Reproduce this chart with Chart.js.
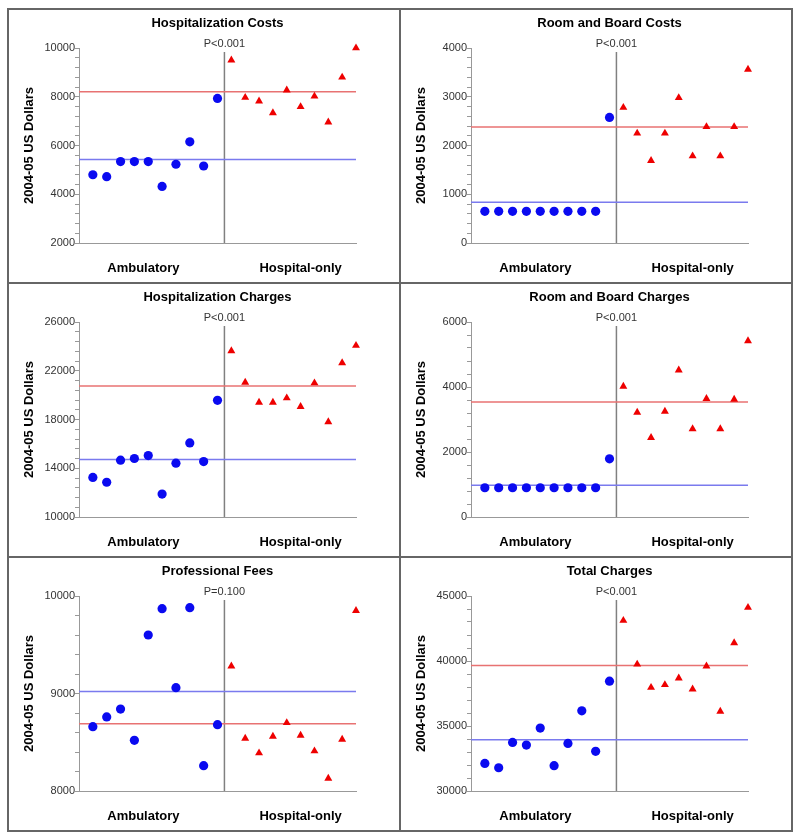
<!DOCTYPE html>
<html>
<head>
<meta charset="utf-8">
<title>Costs and charges by group</title>
<script src="https://cdn.jsdelivr.net/npm/chart.js@4.4.1/dist/chart.umd.min.js"></script>
<style>
  body { margin: 0; background: #fff; }
  #frame { position: absolute; left: 7px; top: 8px; width: 782px; height: 820px; border: 2px solid #666; }
  .vdiv { position: absolute; left: 399px; top: 8px; width: 2px; height: 824px; background: #666; }
  .hdiv { position: absolute; left: 7px; width: 786px; height: 2px; background: #666; }
  canvas { position: absolute; }
</style>
</head>
<body>
<div id="frame"></div>
<div class="vdiv"></div>
<div class="hdiv" style="top:282px"></div>
<div class="hdiv" style="top:556px"></div>

<canvas id="c0" width="390" height="272" style="left:9px;top:10px"></canvas>
<canvas id="c1" width="390" height="272" style="left:401px;top:10px"></canvas>
<canvas id="c2" width="390" height="272" style="left:9px;top:284px"></canvas>
<canvas id="c3" width="390" height="272" style="left:401px;top:284px"></canvas>
<canvas id="c4" width="390" height="272" style="left:9px;top:558px"></canvas>
<canvas id="c5" width="390" height="272" style="left:401px;top:558px"></canvas>

<script>
// group names shown under each panel
const groupLabels = ['Ambulatory', 'Hospital-only'];

// panel titles and p-values
const titles = ['Hospitalization Costs', 'Room and Board Costs', 'Hospitalization Charges',
  'Room and Board Charges', 'Professional Fees', 'Total Charges'];
const pValues = ['P<0.001', 'P<0.001', 'P<0.001', 'P<0.001', 'P=0.100', 'P<0.001'];

// y axis ranges and major tick step per panel
const yMins = [2000, 0, 10000, 0, 8000, 30000];
const yMaxs = [10000, 4000, 26000, 6000, 10000, 45000];
const yMajors = [2000, 1000, 4000, 2000, 1000, 5000];

// 10 ambulatory sites (circles) per panel
const ambulatory = [
  [4800, 4720, 5340, 5340, 5340, 4320, 5230, 6150, 5160, 7930],
  [650, 650, 650, 650, 650, 650, 650, 650, 650, 2575],
  [13250, 12850, 14660, 14800, 15040, 11880, 14420, 16080, 14550, 19570],
  [900, 900, 900, 900, 900, 900, 900, 900, 900, 1790],
  [8660, 8760, 8840, 8520, 9600, 9870, 9060, 9880, 8260, 8680],
  [32120, 31790, 33740, 33530, 34840, 31950, 33660, 36170, 33050, 38450]
];

// 10 hospital-only sites (triangles) per panel
const hospitalOnly = [
  [9500, 7970, 7820, 7340, 8270, 7590, 8020, 6960, 8800, 10000],
  [2780, 2250, 1690, 2250, 2980, 1785, 2385, 1785, 2385, 3560],
  [23630, 21040, 19400, 19400, 19760, 19050, 20990, 17800, 22650, 24070],
  [4020, 3220, 2440, 3250, 4520, 2710, 3640, 2710, 3620, 5420],
  [9280, 8540, 8390, 8560, 8700, 8570, 8410, 8130, 8530, 9850],
  [43110, 39750, 37960, 38170, 38680, 37830, 39600, 36120, 41390, 44110]
];

// group means (horizontal lines)
const ambulatoryMeans = [5430, 838, 14720, 980, 9020, 33940];
const hospitalMeans = [8210, 2378, 20740, 3540, 8690, 39650];

const FONT = "Arial, 'Liberation Sans', sans-serif";
const topPad = 38;

// separator line, p-value and panel title
const panelDecor = {
  id: 'panelDecor',
  beforeDatasetsDraw(chart, args, opts) {
    const { ctx, chartArea, scales } = chart;
    const x = scales.x.getPixelForValue(opts.splitAt);
    ctx.save();
    ctx.strokeStyle = '#808080';
    ctx.lineWidth = 1.5;
    ctx.beginPath();
    ctx.moveTo(x, chartArea.top + 4);
    ctx.lineTo(x, chartArea.bottom);
    ctx.stroke();
    ctx.restore();
  },
  afterDraw(chart, args, opts) {
    const { ctx, chartArea, scales } = chart;
    const x = scales.x.getPixelForValue(opts.splitAt);
    ctx.save();
    ctx.textAlign = 'center';
    ctx.fillStyle = '#333';
    ctx.font = '11px ' + FONT;
    ctx.textBaseline = 'alphabetic';
    ctx.fillText(opts.pText, x, chartArea.top - 1);
    ctx.fillStyle = '#000';
    ctx.font = 'bold 13px ' + FONT;
    ctx.textBaseline = 'middle';
    ctx.fillText(opts.title, (chartArea.left + chartArea.right) / 2, 13);
    ctx.restore();
  }
};

function makePanel(i) {
  const ctx = document.getElementById('c' + i);
  const minor = yMajors[i] / 5;
  const meanLine = (v) => [{ x: 0, y: v }, { x: 20, y: v }];

  new Chart(ctx, {
    type: 'scatter',
    data: {
      datasets: [
        {
          data: ambulatory[i].map((v, k) => ({ x: k + 1, y: v })),
          pointStyle: 'circle',
          pointRadius: 4.6,
          backgroundColor: '#0a0af0',
          borderWidth: 0,
          clip: false
        },
        {
          data: hospitalOnly[i].map((v, k) => ({ x: k + 11, y: v })),
          pointStyle: 'triangle',
          pointRadius: 4.6,
          backgroundColor: '#ee0000',
          borderWidth: 0,
          clip: false
        },
        {
          type: 'line',
          data: meanLine(hospitalMeans[i]),
          borderColor: '#e87272',
          borderWidth: 1.5,
          pointRadius: 0
        },
        {
          type: 'line',
          data: meanLine(ambulatoryMeans[i]),
          borderColor: '#7a7aee',
          borderWidth: 1.5,
          pointRadius: 0
        }
      ]
    },
    options: {
      responsive: false,
      animation: false,
      devicePixelRatio: 1,
      layout: { padding: { top: topPad, right: 43, left: 0, bottom: 0 } },
      plugins: {
        legend: { display: false },
        tooltip: { enabled: false },
        panelDecor: { splitAt: 10.5, pText: pValues[i], title: titles[i] }
      },
      scales: {
        x: {
          type: 'linear',
          min: 0,
          max: 20,
          afterBuildTicks: (scale) => {
            scale.ticks = [{ value: 4.65 }, { value: 16 }];
          },
          afterFit: (scale) => { scale.height = 272 - topPad - 195; },
          ticks: {
            autoSkip: false,
            maxRotation: 0,
            padding: 18,
            color: '#000',
            font: { family: FONT, size: 13, weight: 'bold' },
            callback: (v, idx) => groupLabels[idx]
          },
          grid: { drawOnChartArea: false, drawTicks: false },
          border: { color: '#999', width: 1 }
        },
        y: {
          min: yMins[i],
          max: yMaxs[i],
          afterBuildTicks: (scale) => {
            const t = [];
            for (let v = yMins[i]; v <= yMaxs[i]; v += minor) t.push({ value: v });
            scale.ticks = t;
          },
          afterFit: (scale) => { scale.width = 70; },
          ticks: {
            autoSkip: false,
            padding: 0,
            color: '#333',
            font: { family: FONT, size: 11 },
            callback: (v) => ((v - yMins[i]) % yMajors[i] === 0 ? String(v) : '')
          },
          grid: { drawOnChartArea: false, drawTicks: true, tickLength: 4, color: '#999' },
          border: { color: '#999', width: 1 },
          title: {
            display: true,
            text: '2004-05 US Dollars',
            color: '#000',
            font: { family: FONT, size: 13, weight: 'bold' },
            padding: { top: 13, bottom: 0 }
          }
        }
      }
    },
    plugins: [panelDecor]
  });
}

for (let i = 0; i < titles.length; i++) {
  makePanel(i);
}
</script>
</body>
</html>
